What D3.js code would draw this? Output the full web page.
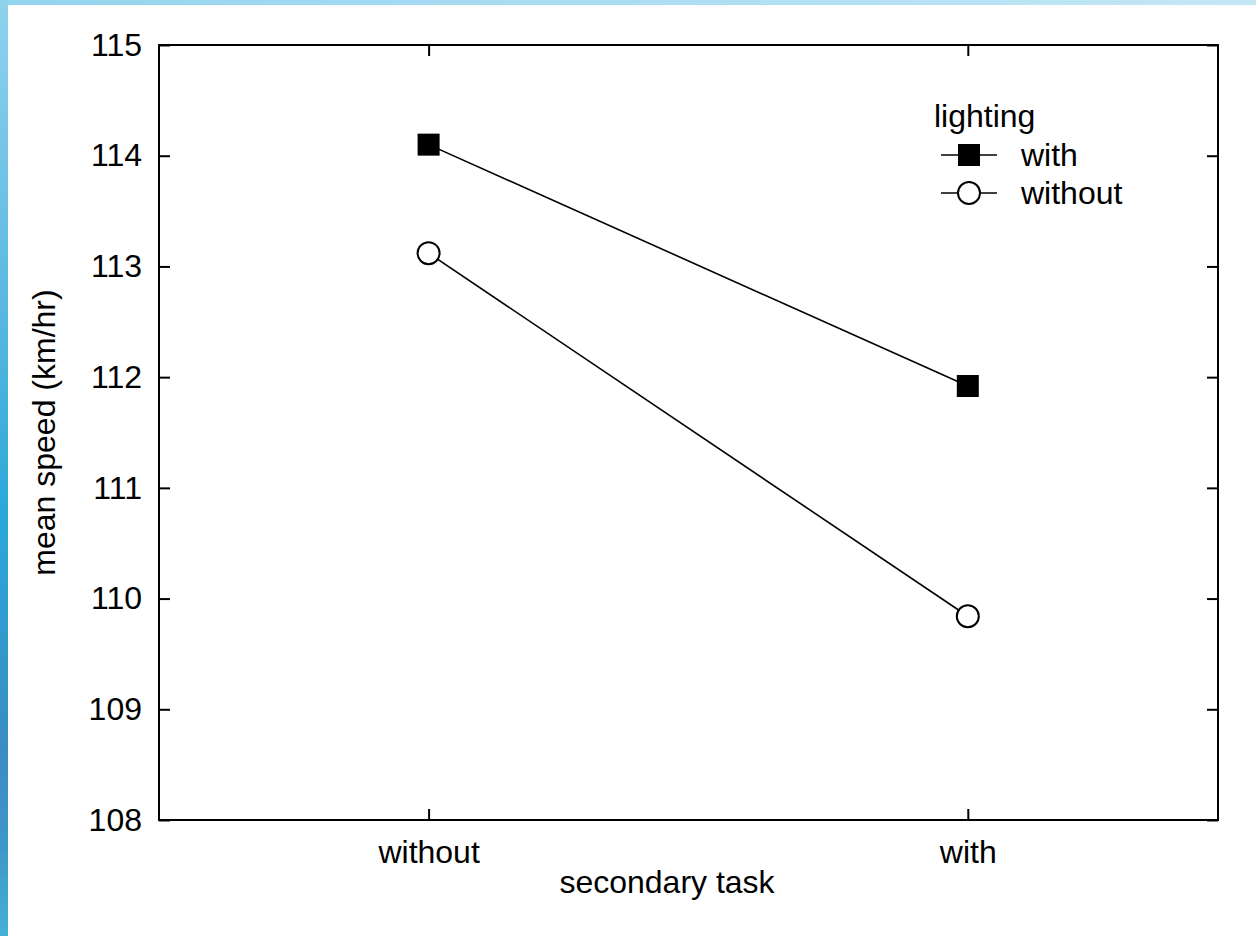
<!DOCTYPE html>
<html>
<head>
<meta charset="utf-8">
<script src="https://cdn.jsdelivr.net/npm/d3@7"></script>
<style>
  html, body { margin: 0; padding: 0; background: #fff; }
  svg { display: block; }
  text { font-family: "Liberation Sans", Arial, sans-serif; fill: #000; }
</style>
</head>
<body>
<svg id="chart" width="1256" height="936"></svg>
<script>
// Interaction plot: mean speed by secondary task and lighting condition
const taskLevels = ["without", "with"];
const lightingLevels = ["with", "without"];
const speedWithLighting = [114.1, 111.92];
const speedWithoutLighting = [113.12, 109.84];
const yTicks = [108, 109, 110, 111, 112, 113, 114, 115];

(function () {
const svg = d3.select("#chart");
const W = 1256, H = 936;

// decorative frame: blue bands along the top and left edges
const defs = svg.append("defs");
const gLeft = defs.append("linearGradient").attr("id", "leftBand")
  .attr("x1", 0).attr("y1", 0).attr("x2", 0).attr("y2", 1);
[[0, "#8fd2ee"], [0.35, "#56b6e0"], [0.55, "#2aa8d8"], [0.8, "#3a8cc4"], [0.9, "#3f96c8"], [1, "#45b0d6"]]
  .forEach(([o, c]) => gLeft.append("stop").attr("offset", o).attr("stop-color", c));
const gTop = defs.append("linearGradient").attr("id", "topBand")
  .attr("x1", 0).attr("y1", 0).attr("x2", 1).attr("y2", 0);
[[0, "#93d4ef"], [1, "#c4e7f6"]]
  .forEach(([o, c]) => gTop.append("stop").attr("offset", o).attr("stop-color", c));
svg.append("rect").attr("x", 0).attr("y", 0).attr("width", W).attr("height", 5).attr("fill", "url(#topBand)");
svg.append("rect").attr("x", 0).attr("y", 0).attr("width", 8).attr("height", H).attr("fill", "url(#leftBand)");

const plotLeft = 159, plotRight = 1218, plotTop = 45, plotBottom = 820;

const x = d3.scaleLinear().domain([-0.5, 1.464]).range([plotLeft, plotRight]);
const y = d3.scaleLinear().domain([108, 115]).range([plotBottom, plotTop]);

const tickLen = 11;
const fontSize = 32;

// frame
svg.append("rect")
  .attr("x", plotLeft).attr("y", plotTop)
  .attr("width", plotRight - plotLeft).attr("height", plotBottom - plotTop)
  .attr("fill", "none").attr("stroke", "#000").attr("stroke-width", 2);

// y axis (left, with inward ticks) and mirrored ticks on the right
const yAxisL = d3.axisLeft(y).tickValues(yTicks).tickSize(-tickLen).tickPadding(17).tickFormat(d3.format("d"));
const gyl = svg.append("g").attr("transform", `translate(${plotLeft},0)`).call(yAxisL);
const yAxisR = d3.axisRight(y).tickValues(yTicks).tickSize(-tickLen).tickFormat("");
const gyr = svg.append("g").attr("transform", `translate(${plotRight},0)`).call(yAxisR);

// x axis (bottom, inward ticks) and mirrored ticks on top
const xAxisB = d3.axisBottom(x).tickValues([0, 1]).tickSize(-tickLen).tickPadding(20)
  .tickFormat(i => taskLevels[i]);
const gxb = svg.append("g").attr("transform", `translate(0,${plotBottom})`).call(xAxisB);
const xAxisT = d3.axisTop(x).tickValues([0, 1]).tickSize(-tickLen).tickFormat("");
const gxt = svg.append("g").attr("transform", `translate(0,${plotTop})`).call(xAxisT);

[gyl, gyr, gxb, gxt].forEach(g => {
  g.select(".domain").remove();
  g.selectAll(".tick line").attr("stroke", "#000").attr("stroke-width", 2);
  g.selectAll(".tick text").attr("font-size", fontSize).attr("fill", "#000")
    .style("font-family", "'Liberation Sans', Arial, sans-serif");
});

// axis titles
svg.append("text").attr("x", 667).attr("y", 893)
  .attr("text-anchor", "middle").attr("font-size", fontSize).text("secondary task");
svg.append("text")
  .attr("transform", `translate(55,${(plotTop + plotBottom) / 2}) rotate(-90)`)
  .attr("text-anchor", "middle").attr("font-size", fontSize).text("mean speed (km/hr)");

// series
const series = [
  { name: lightingLevels[0], values: speedWithLighting, shape: "square" },
  { name: lightingLevels[1], values: speedWithoutLighting, shape: "circle" }
];
const line = d3.line().x((d, i) => x(i)).y(d => y(d));

function drawMarker(g, shape, cx, cy) {
  if (shape === "square") {
    g.append("rect").attr("x", cx - 11).attr("y", cy - 11).attr("width", 22).attr("height", 22)
      .attr("fill", "#000");
  } else {
    g.append("circle").attr("cx", cx).attr("cy", cy).attr("r", 11)
      .attr("fill", "#fff").attr("stroke", "#000").attr("stroke-width", 2);
  }
}

series.forEach(s => {
  svg.append("path").datum(s.values).attr("d", line)
    .attr("fill", "none").attr("stroke", "#000").attr("stroke-width", 1.6);
  const g = svg.append("g");
  s.values.forEach((v, i) => drawMarker(g, s.shape, x(i), y(v)));
});

// legend
const legend = svg.append("g");
legend.append("text").attr("x", 934).attr("y", 127).attr("font-size", fontSize).text("lighting");
series.forEach((s, i) => {
  const ly = 155 + i * 38;
  legend.append("line").attr("x1", 941).attr("x2", 997).attr("y1", ly).attr("y2", ly)
    .attr("stroke", "#000").attr("stroke-width", 1.6);
  drawMarker(legend, s.shape, 969, ly);
  legend.append("text").attr("x", 1021).attr("y", ly).attr("dy", "0.35em")
    .attr("font-size", fontSize).text(s.name);
});
})();
</script>
</body>
</html>
